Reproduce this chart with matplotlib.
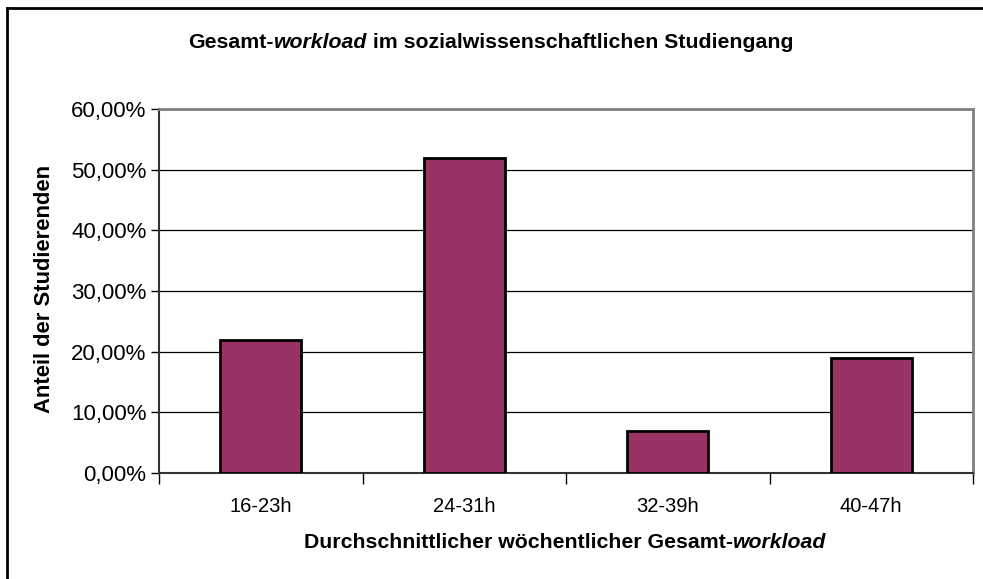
import numpy as np
import matplotlib
matplotlib.use("Agg")
import matplotlib.pyplot as plt
from matplotlib.ticker import FuncFormatter, FixedLocator

plt.rcParams['font.family'] = ['Liberation Sans', 'DejaVu Sans']

categories = ['16-23h', '24-31h', '32-39h', '40-47h']
shares = [22.0, 52.0, 7.0, 19.0]
y_ticks = [0, 10, 20, 30, 40, 50, 60]

title_parts = [('Gesamt-', 'normal'), ('workload', 'italic'), (' im sozialwissenschaftlichen Studiengang', 'normal')]
xlabel_parts = [('Durchschnittlicher wöchentlicher Gesamt-', 'normal'), ('workload', 'italic')]
ylabel = 'Anteil der Studierenden'

BAR_COLOR = '#993366'


def mixed_text(fig, parts, x_center, y, size):
    # draw pieces one after another, then shift the whole row so it is centred
    renderer = fig.canvas.get_renderer()
    texts = []
    x = 0.0
    for s, style in parts:
        t = fig.text(x, y, s, fontsize=size, fontweight='bold', style=style,
                     ha='left', va='center')
        bb = t.get_window_extent(renderer)
        texts.append(t)
        x += bb.width / fig.bbox.width
    start = x_center - x / 2
    pos = start
    for t in texts:
        t.set_x(pos)
        pos += t.get_window_extent(renderer).width / fig.bbox.width


fig = plt.figure(figsize=(9.83, 5.79), dpi=100)
ax = fig.add_axes([159 / 983, 1 - 473 / 579, (973 - 159) / 983, (473 - 109) / 579])

xpos = np.arange(len(categories))
ax.bar(xpos, shares, width=0.4, color=BAR_COLOR, edgecolor='black', linewidth=2, zorder=3)

ax.set_xlim(-0.5, len(categories) - 0.5)
ax.set_ylim(0, 60)
ax.set_yticks(y_ticks)
ax.yaxis.set_major_formatter(FuncFormatter(lambda v, p: f'{v:.2f}'.replace('.', ',') + '%'))
ax.grid(axis='y', color='black', linewidth=0.9, zorder=0)

ax.set_xticks(xpos)
ax.set_xticklabels(categories)
ax.tick_params(axis='x', which='major', length=0, pad=17, labelsize=14.5)
ax.xaxis.set_minor_locator(FixedLocator(np.arange(-0.5, len(categories), 1.0)))
ax.tick_params(axis='x', which='minor', length=8, width=1, color='black', direction='out')
ax.tick_params(axis='y', length=6, width=1, direction='out', labelsize=16, pad=3)

for side in ('top', 'right'):
    ax.spines[side].set_color('#808080')
    ax.spines[side].set_linewidth(2)
for side in ('left', 'bottom'):
    ax.spines[side].set_color('#333333')
    ax.spines[side].set_linewidth(1.5)

fig.text(45 / 983, 1 - 289 / 579, ylabel, rotation=90, fontsize=15.8, fontweight='bold',
         ha='center', va='center')

fig.canvas.draw()
mixed_text(fig, title_parts, 491 / 983, 1 - 42 / 579, 15.3)
mixed_text(fig, xlabel_parts, 565 / 983, 1 - 543 / 579, 15.3)

# outer frame (only the top and left edges are visible in the image)
fig.add_artist(plt.Line2D([7 / 983, 7 / 983], [0, 1 - 8 / 579], color='black', lw=2, transform=fig.transFigure))
fig.add_artist(plt.Line2D([7 / 983, 1], [1 - 8 / 579, 1 - 8 / 579], color='black', lw=2, transform=fig.transFigure))

fig.savefig('out.png', dpi=100)
